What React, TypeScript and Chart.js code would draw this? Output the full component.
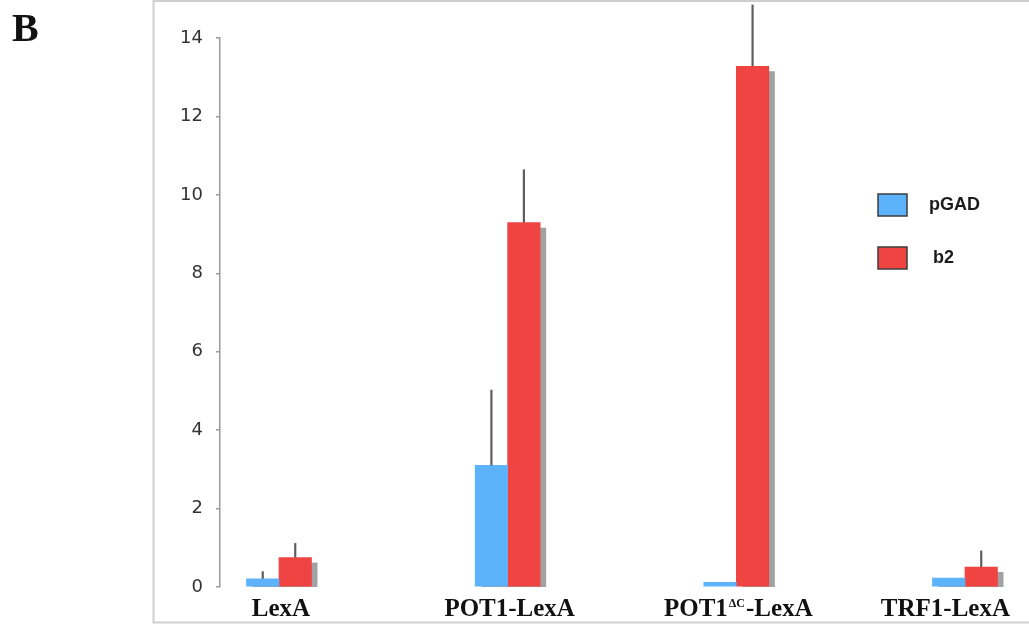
import React, { useEffect, useRef } from 'react';
import { Chart, registerables } from 'chart.js';

Chart.register(...registerables);

const categories = ['LexA', 'POT1-LexA', 'POT1ΔC-LexA', 'TRF1-LexA'];
const categorySuperscripts = ['', '', 'ΔC', ''];
const seriesNames = ['pGAD', 'b2'];
const pgadValues = [0.21, 3.1, 0.12, 0.23];
const b2Values = [0.75, 9.29, 13.28, 0.51];
const pgadErrors = [0.19, 1.93, 0, 0];
const b2Errors = [0.37, 1.36, 1.57, 0.42];
const yTickValues = [0, 2, 4, 6, 8, 10, 12, 14];
const panelLetter = 'B';

const BLUE = '#5cb3fb';
const RED = '#ef4441';

const decorPlugin = {
  id: 'decor',
  beforeDraw(chart: any) {
    const ctx = chart.ctx;
    ctx.save();
    ctx.fillStyle = '#ffffff';
    ctx.fillRect(0, 0, chart.width, chart.height);
    // frame
    ctx.strokeStyle = '#cfcfcf';
    ctx.lineWidth = 2;
    ctx.beginPath();
    ctx.moveTo(chart.width + 2, 1);
    ctx.lineTo(153.5, 1);
    ctx.lineTo(153.5, 622.5);
    ctx.lineTo(chart.width + 2, 622.5);
    ctx.stroke();
    // panel letter
    ctx.fillStyle = '#111';
    ctx.font = 'bold 40px "Liberation Serif"';
    ctx.textBaseline = 'alphabetic';
    ctx.textAlign = 'left';
    ctx.fillText(panelLetter, 12, 41);
    ctx.restore();
  },
  beforeDatasetsDraw(chart: any) {
    // bar drop shadows
    const ctx = chart.ctx;
    const area = chart.chartArea;
    ctx.save();
    ctx.beginPath();
    ctx.rect(area.left, 0, area.right - area.left, area.bottom);
    ctx.clip();
    ctx.fillStyle = '#a2a2a2';
    chart.data.datasets.forEach((_: any, di: number) => {
      const meta = chart.getDatasetMeta(di);
      meta.data.forEach((el: any) => {
        const p = el.getProps(['x', 'y', 'base', 'width'], true);
        const left = p.x - p.width / 2 + 6;
        ctx.fillRect(left, p.y + 5, p.width, p.base - p.y);
      });
    });
    ctx.restore();
  },
  afterDatasetsDraw(chart: any) {
    const ctx = chart.ctx;
    const yScale = chart.scales.y;
    ctx.save();
    ctx.strokeStyle = '#5e5e5e';
    ctx.lineWidth = 2.2;
    chart.data.datasets.forEach((ds: any, di: number) => {
      const meta = chart.getDatasetMeta(di);
      meta.data.forEach((el: any, j: number) => {
        const err = ds.errors[j];
        if (!err) return;
        const v = ds.data[j].y;
        const p = el.getProps(['x', 'y'], true);
        ctx.beginPath();
        ctx.moveTo(p.x, p.y);
        ctx.lineTo(p.x, yScale.getPixelForValue(v + err));
        ctx.stroke();
      });
    });
    ctx.restore();
  },
  afterDraw(chart: any) {
    const ctx = chart.ctx;
    const xScale = chart.scales.x;
    ctx.save();
    // category labels
    ctx.fillStyle = '#111';
    ctx.textBaseline = 'alphabetic';
    ctx.textAlign = 'left';
    const mainFont = 'bold 25px "Liberation Serif"';
    const supFont = 'bold 12px "Liberation Serif"';
    categories.forEach((label, i) => {
      const sup = categorySuperscripts[i];
      let parts: { t: string; sup: boolean }[] = [];
      if (sup) {
        const idx = label.indexOf(sup);
        parts = [
          { t: label.slice(0, idx), sup: false },
          { t: sup, sup: true },
          { t: label.slice(idx + sup.length), sup: false },
        ];
      } else {
        parts = [{ t: label, sup: false }];
      }
      let total = 0;
      const widths = parts.map((pt) => {
        ctx.font = pt.sup ? supFont : mainFont;
        const w = ctx.measureText(pt.t).width + (pt.sup ? 2 : 0);
        total += w;
        return w;
      });
      let x = xScale.getPixelForValue(i) + 2 - total / 2;
      const maxRight = chart.width - 19;
      if (x + total > maxRight) x = maxRight - total;
      parts.forEach((pt, k) => {
        ctx.font = pt.sup ? supFont : mainFont;
        ctx.fillText(pt.t, x + (pt.sup ? 1 : 0), pt.sup ? 607 : 616);
        x += widths[k];
      });
    });
    // legend
    const colors = [BLUE, RED];
    seriesNames.forEach((name, i) => {
      const by = 194 + i * 53;
      ctx.fillStyle = colors[i];
      ctx.fillRect(878, by, 29, 22);
      ctx.strokeStyle = '#3c3c3c';
      ctx.lineWidth = 1.5;
      ctx.strokeRect(878, by, 29, 22);
      ctx.fillStyle = '#1a1a1a';
      ctx.font = 'bold 18px "Liberation Sans"';
      ctx.textBaseline = 'middle';
      ctx.fillText(name, i === 0 ? 929 : 933, by + 11);
    });
    ctx.restore();
  },
};

export default function App() {
  const canvasRef = useRef<HTMLCanvasElement | null>(null);

  useEffect(() => {
    if (!canvasRef.current) return;
    const chart = new Chart(canvasRef.current, {
      type: 'bar',
      data: {
        datasets: [
          {
            label: seriesNames[0],
            data: pgadValues.map((v, i) => ({ x: i, y: v })),
            backgroundColor: BLUE,
            borderWidth: 0,
            barThickness: 32.5,
            clip: 0,
            errors: pgadErrors,
          } as any,
          {
            label: seriesNames[1],
            data: b2Values.map((v, i) => ({ x: i, y: v })),
            backgroundColor: RED,
            borderWidth: 0,
            barThickness: 32.5,
            clip: 0,
            errors: b2Errors,
          } as any,
        ],
      },
      options: {
        responsive: false,
        animation: false,
        devicePixelRatio: 1,
        layout: { padding: { top: 38, bottom: 38, left: 0, right: 0 } },
        plugins: {
          legend: { display: false },
          tooltip: { enabled: false },
        },
        scales: {
          x: {
            type: 'linear',
            display: false,
            offset: false,
            grid: { offset: false },
            min: -0.258,
            max: 3.28,
          },
          y: {
            min: 0,
            max: 14,
            afterBuildTicks: (scale: any) => {
              scale.ticks = yTickValues.map((v) => ({ value: v }));
            },
            afterFit: (scale: any) => {
              scale.width = 220;
            },
            ticks: {
              color: '#333333',
              font: { family: '"DejaVu Sans"', size: 18 },
              padding: 13,
            },
            grid: {
              display: true,
              drawOnChartArea: false,
              drawTicks: true,
              tickLength: 4,
              color: '#9a9a9a',
              lineWidth: 1.5,
            },
            border: { display: true, color: '#9a9a9a', width: 1.5 },
          },
        },
      },
      plugins: [decorPlugin],
    });
    return () => chart.destroy();
  }, []);

  return (
    <div style={{ position: 'fixed', left: 0, top: 0, width: 1029, height: 625, background: '#fff' }}>
      <canvas ref={canvasRef} width={1029} height={625} style={{ display: 'block' }} />
    </div>
  );
}
